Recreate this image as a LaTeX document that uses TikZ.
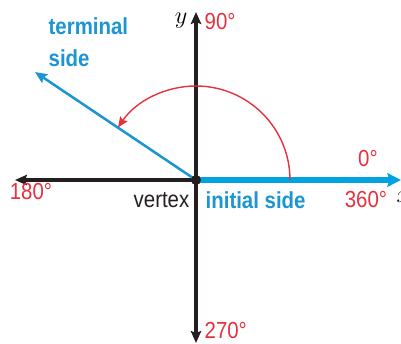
\documentclass[tikz,border=0pt]{standalone}
\usepackage{fontspec}
\setmainfont[FakeStretch=0.88]{Liberation Sans}
\usepackage{xcolor}
\definecolor{AngleBlue}{HTML}{00A3E0}
\definecolor{TermBlue}{HTML}{1B95D3}
\definecolor{AngleRed}{HTML}{E8303E}
\definecolor{AxisDark}{HTML}{231F20}
\usetikzlibrary{arrows.meta,positioning,calc}
\tikzset{
  >={Stealth[length=0.3cm,width=0.26cm,inset=0.05cm]},
  label/.style={inner sep=1pt, font=\fontsize{16.5}{18}\selectfont},
  degree/.style={label, text=AngleRed},
  sidename/.style={label, text=TermBlue, font=\fontsize{16.5}{23}\selectfont\bfseries, align=left},
  axis/.style={draw=AxisDark, line width=2.2pt},
  initial/.style={->, draw=AngleBlue, line width=3.6pt, >={Stealth[length=0.34cm,width=0.34cm,inset=0.05cm]}},
  terminal/.style={->, draw=TermBlue, line width=1.8pt, >={Stealth[length=0.3cm,width=0.26cm,inset=0.05cm]}},
  turn/.style={->, draw=AngleRed, line width=1pt, >={Stealth[length=0.26cm,width=0.22cm,inset=0.04cm]}},
  vertexdot/.style={circle, fill=AxisDark, inner sep=0pt, minimum size=0.25cm}
}

\begin{document}
\begin{tikzpicture}[x=0.025cm,y=0.025cm]
  \useasboundingbox (-196,-163) rectangle (205,180);
  \coordinate (O) at (0,0);
  \coordinate (xneg) at (-181,0);
  \coordinate (xpos) at (205,0);
  \coordinate (ypos) at (0,168);
  \coordinate (yneg) at (0,-163);
  \coordinate (tip) at (-161,108);

  % axes and sides
  \draw[axis, ->] (O) -- (xneg);
  \draw[axis, <->] (yneg) -- (ypos);
  \draw[initial] (O) -- (xpos);
  \draw[terminal] (O) -- (tip);
  \draw[turn] ($(O)+(0:94)$) arc[start angle=0, end angle=146, radius=94];
  \node[vertexdot] (vertex) at (O) {};

  % labels
  \node[label, font=\fontsize{16}{18}\selectfont\rmfamily\itshape] (ylab) at (-15,159) {$y$};
  \node[degree, anchor=west] (deg90) at (7,158) {90°};
  \node[degree] (deg0) at (172,21) {0°};
  \node[degree] (deg180) at (-165,-12) {180°};
  \node[degree] (deg360) at (170,-20) {360°};
  \node[degree, anchor=west] (deg270) at (7,-151) {270°};
  \node[label, text=AxisDark, anchor=east] (vtx) at (-5,-20) {vertex};
  \node[label, text=TermBlue, font=\fontsize{16.5}{18}\selectfont\bfseries, anchor=west] (init) at (8,-20) {initial side};
  \node[sidename, anchor=north west] (term) at (-149,164) {terminal\\side};
  \node[label, font=\fontsize{16}{18}\selectfont\rmfamily\itshape, anchor=west] (xlab) at (199,-17) {$x$};
\end{tikzpicture}
\end{document}
